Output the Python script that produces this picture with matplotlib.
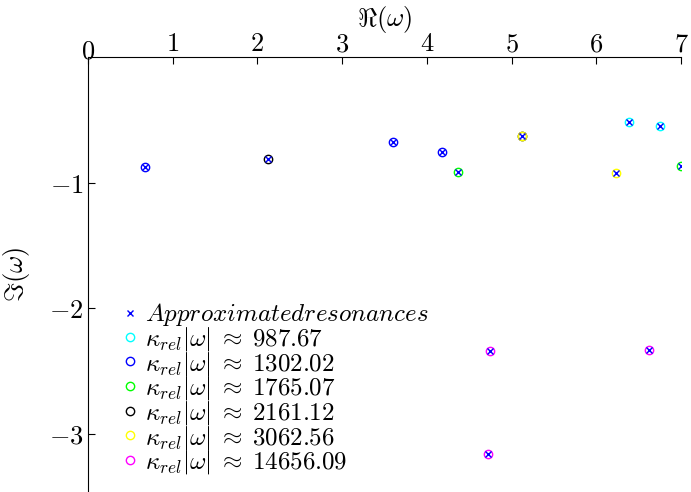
import matplotlib
matplotlib.use("Agg")
import matplotlib.pyplot as plt
import matplotlib.transforms as mtransforms

plt.rcParams['mathtext.fontset'] = 'cm'
plt.rcParams['font.family'] = 'serif'

# approximated resonances (real part, imaginary part)
approx_re = [0.67, 2.13, 3.60, 4.18, 4.37, 5.12, 6.23, 6.39, 6.75, 7.00, 4.75, 6.62, 4.72]
approx_im = [-0.88, -0.81, -0.675, -0.755, -0.92, -0.627, -0.924, -0.52, -0.55, -0.865, -2.34, -2.335, -3.166]

# computed resonances for each kappa_rel*|omega|
kappas = ['987.67', '1302.02', '1765.07', '2161.12', '3062.56', '14656.09']
colors = ['cyan', 'blue', 'lime', 'black', 'yellow', 'magenta']
res_re = [[6.39, 6.75],
          [0.67, 3.60, 4.18],
          [4.37, 7.00],
          [2.13, 5.12],
          [5.12, 6.23],
          [4.75, 6.62, 4.72]]
res_im = [[-0.52, -0.55],
          [-0.88, -0.675, -0.755],
          [-0.92, -0.865],
          [-0.81, -0.627],
          [-0.627, -0.924],
          [-2.34, -2.335, -3.166]]

xticks = [0, 1, 2, 3, 4, 5, 6, 7]
yticks = [-1, -2, -3]

fig = plt.figure(figsize=(6.91, 4.92), dpi=100)
ax = fig.add_axes([0.1274, 0.0, 0.858, 0.8841])

ax.plot(approx_re, approx_im, 'x', color='blue', markersize=4, mew=1,
        label=r'$Approximated resonances$', zorder=5)
for k, c, xr, yi in zip(kappas, colors, res_re, res_im):
    ax.plot(xr, yi, 'o', mfc='none', mec=c, markersize=6, mew=1,
            label=r'$\kappa_{rel}|\omega|\;\approx\;' + k + '$')

ax.set_xlim(0, 7)
ax.set_ylim(-3.466, 0)

ax.spines['right'].set_visible(False)
ax.spines['bottom'].set_visible(False)
ax.xaxis.tick_top()
ax.xaxis.set_label_position('top')
ax.tick_params(direction='in', length=5, labelsize=19)
ax.tick_params(axis='x', pad=0.5)
ax.set_xticks(xticks)
ax.set_xticklabels(['$%d$' % v for v in xticks])
ax.set_yticks(yticks)
ax.set_yticklabels(['$%d$' % v for v in yticks])
ax.set_xlabel(r'$\Re(\omega)$', fontsize=19, labelpad=4)
ax.set_ylabel(r'$\Im(\omega)$', fontsize=19, labelpad=12)

# the "0" label sits lower, right on the corner
lbl0 = ax.xaxis.get_major_ticks()[0].label2
lbl0.set_transform(lbl0.get_transform() +
                   mtransforms.ScaledTranslation(0, -7 / 100, fig.dpi_scale_trans))

ax.legend(loc='upper left', bbox_to_anchor=(111 / 691, 1 - 289 / 492),
          bbox_transform=fig.transFigure,
          frameon=False, fontsize=18, handlelength=0.5, handletextpad=0.35,
          labelspacing=-0.136, borderpad=0)

fig.savefig('out.png', dpi=100)
